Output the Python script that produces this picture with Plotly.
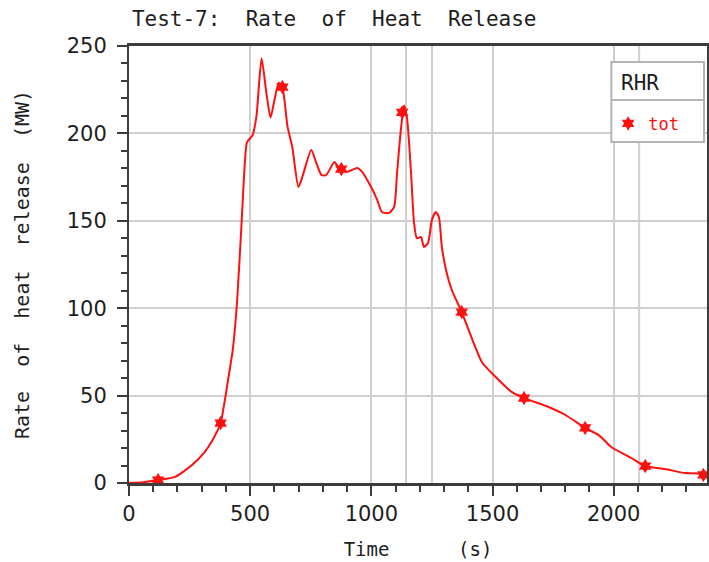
import plotly.graph_objects as go

# ---- data ----
time_s = [0, 60, 120, 190, 260, 312, 345, 378, 395, 410, 428, 446, 465, 477, 487,
          510, 526, 547, 567, 584, 600, 618, 633, 654, 674, 699, 715, 752, 773, 794,
          814, 847, 862, 876, 900, 942, 962, 999, 1024, 1044, 1073, 1094, 1106, 1123,
          1135, 1147, 1164, 1176, 1188, 1205, 1217, 1234, 1250, 1266, 1279, 1291, 1308,
          1332, 1373, 1456, 1513, 1579, 1630, 1731, 1801, 1882, 1937, 1990, 2072, 2130,
          2212, 2294, 2348, 2370, 2385]
rhr_mw = [0, 0.5, 1.7, 3.5, 10.3, 17.7, 24.6, 34.3, 47, 60, 76, 104, 150, 181, 195,
          199, 210, 243, 223, 209, 219, 229, 226.5, 204, 192, 169.3, 175, 190.5, 183, 176.2,
          176.2, 183.6, 181, 179.6, 178, 180.2, 178, 169.3, 162, 155, 154.5, 158, 177.3, 203.7,
          216, 209, 177, 149, 140, 140.7, 135, 137.3, 150.5, 155, 152, 135, 122,
          110.4, 97.8, 69.2, 60.6, 52.1, 48.6, 43.5, 38.9, 31.5, 27.5, 20.6, 14.3, 9.7,
          8, 5.7, 5.5, 4.6, 4.5]

marker_t = [120, 378, 633, 876, 1127, 1373, 1630, 1882, 2130, 2370]
marker_v = [1.7, 34.3, 226.5, 179.6, 212, 97.8, 48.6, 31.5, 9.7, 4.6]

x_ticks = [0, 500, 1000, 1500, 2000]
y_ticks = [0, 50, 100, 150, 200, 250]
extra_vgrid = [1143, 1250, 2105]

title_text = "Test-7:\u00a0\u00a0Rate\u00a0\u00a0of\u00a0\u00a0Heat\u00a0\u00a0Release"
y_title = "Rate\u00a0\u00a0of\u00a0\u00a0heat\u00a0\u00a0release\u00a0\u00a0(MW)"
x_title = "Time" + "\u00a0" * 6 + "(s)"
legend_header = "RHR"
series_name = "tot"

RED = "#ff1010"
GRID = "#cfcfcf"
AXIS = "#3c3c3c"
TXT = "#1e1e1e"
MONO = "DejaVu Sans Mono"

fig = go.Figure()
fig.add_trace(go.Scatter(x=time_s, y=rhr_mw, mode="lines",
                         line=dict(color=RED, width=2, shape="spline", smoothing=0.6),
                         showlegend=False, hoverinfo="skip"))
fig.add_trace(go.Scatter(x=marker_t, y=marker_v, mode="markers", name=series_name,
                         marker=dict(symbol="hexagram", size=11, color=RED)))

for xv in extra_vgrid:
    fig.add_shape(type="line", xref="x", yref="paper", x0=xv, x1=xv, y0=0, y1=1,
                  line=dict(color=GRID, width=2), layer="below")

# legend box (background, border, separator)
lx0, lx1, ly0, ly1, lsep = 0.8345, 0.9948, 0.7803, 0.9634, 0.8764
fig.add_shape(type="rect", xref="paper", yref="paper", x0=lx0, x1=lx1, y0=ly0, y1=ly1,
              fillcolor="white", line=dict(color="#b4b4b4", width=2), layer="above")
fig.add_shape(type="line", xref="paper", yref="paper", x0=lx0, x1=lx1, y0=lsep, y1=lsep,
              line=dict(color="#b4b4b4", width=2), layer="above")
fig.add_annotation(text=legend_header, xref="paper", yref="paper", x=0.8845, y=0.915,
                   xanchor="center", yanchor="middle", showarrow=False,
                   font=dict(family=MONO, size=21, color=TXT))

fig.update_layout(
    width=709, height=562,
    margin=dict(l=129, r=0, t=46, b=79),
    paper_bgcolor="white", plot_bgcolor="white",
    title=dict(text=title_text, x=0.005, xref="paper", xanchor="left",
               y=1 - 19 / 562, yref="container", yanchor="middle",
               font=dict(family=MONO, size=21, color=TXT)),
    legend=dict(x=0.829, y=0.863, xanchor="left", yanchor="top",
                bgcolor="rgba(0,0,0,0)", borderwidth=0,
                font=dict(family=MONO, size=17, color=RED)),
    xaxis=dict(range=[0, 2385], tickvals=x_ticks, showgrid=True, gridcolor=GRID, gridwidth=2,
               zeroline=False, showline=True, linecolor=AXIS, linewidth=3, mirror=True,
               ticks="outside", ticklen=10, tickwidth=2, tickcolor=AXIS,
               minor=dict(dtick=100, ticks="outside", ticklen=6, tickwidth=2,
                          tickcolor=AXIS, showgrid=False),
               tickfont=dict(family="DejaVu Sans", size=21, color=TXT),
               title=dict(text=x_title, standoff=18,
                          font=dict(family=MONO, size=19, color=TXT))),
    yaxis=dict(range=[0, 250], tickvals=y_ticks, showgrid=True, gridcolor=GRID, gridwidth=2,
               zeroline=False, showline=True, linecolor=AXIS, linewidth=2, mirror=True,
               ticks="outside", ticklen=10, tickwidth=2, tickcolor=AXIS,
               minor=dict(dtick=10, ticks="outside", ticklen=6, tickwidth=2,
                          tickcolor=AXIS, showgrid=False),
               ticklabelstandoff=6,
               tickfont=dict(family="DejaVu Sans", size=21, color=TXT),
               title=dict(text=y_title, standoff=32,
                          font=dict(family=MONO, size=20, color=TXT))),
)

fig.write_html("out.html")
